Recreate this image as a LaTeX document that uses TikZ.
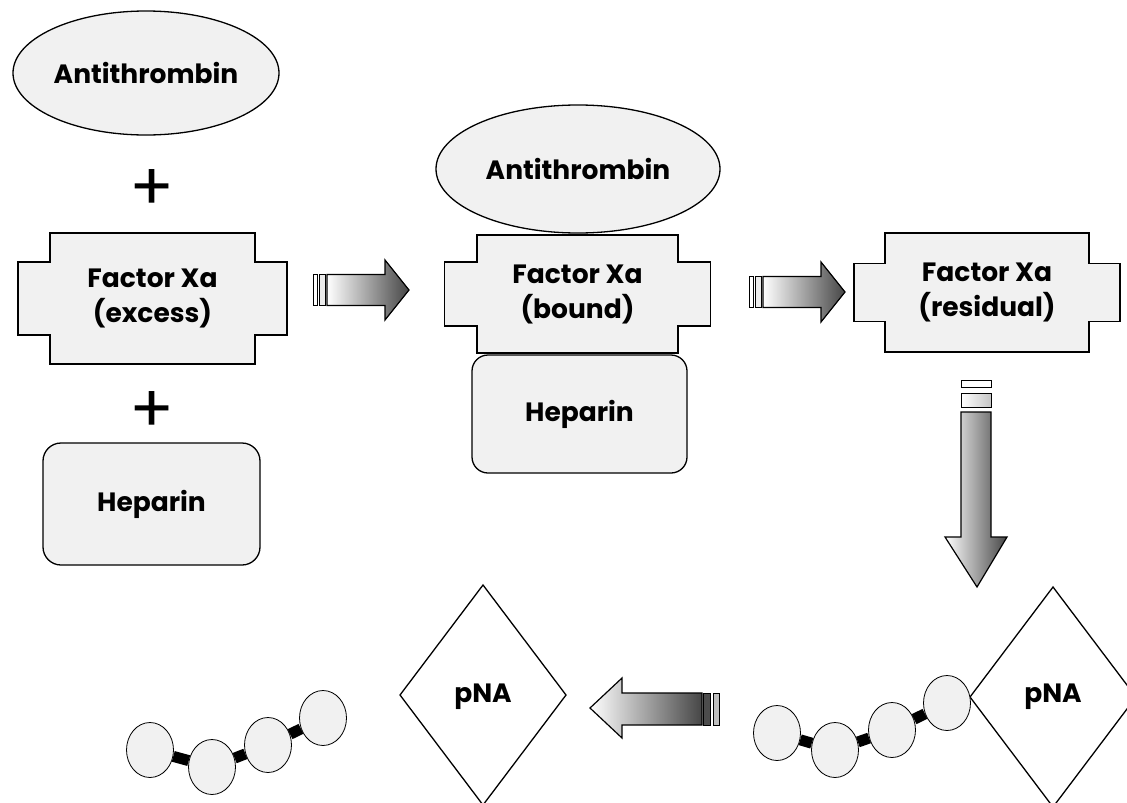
\documentclass[tikz,border=0pt]{standalone}
\usepackage{fontspec}
\setmainfont{Poppins}
\usetikzlibrary{shapes.geometric,backgrounds}
\newcommand\xcross[8]{% name, cx, cy, hw, hh, tab width, tab half height, text
  \draw[shapefill] (#2-#4,#3-#5) -- (#2+#4,#3-#5) -- (#2+#4,#3-#7) -- (#2+#4+#6,#3-#7)
    -- (#2+#4+#6,#3+#7) -- (#2+#4,#3+#7) -- (#2+#4,#3+#5) -- (#2-#4,#3+#5)
    -- (#2-#4,#3+#7) -- (#2-#4-#6,#3+#7) -- (#2-#4-#6,#3-#7) -- (#2-#4,#3-#7) -- cycle;
  \node[lbl] (#1) at (#2,#3) {#8};}
\newcommand\rblock[2]{% x0, cy : right pointing block arrow
  \draw[barline,fill=white] (#1,#2-15.5) rectangle (#1+4,#2+15.5);
  \draw[barline,fill=gray!15] (#1+6,#2-15.5) rectangle (#1+12,#2+15.5);
  \draw[arrline,left color=white,right color=gray!55!black]
    (#1+14,#2-15.5) -- (#1+72,#2-15.5) -- (#1+72,#2-30) -- (#1+96,#2) -- (#1+72,#2+30)
    -- (#1+72,#2+15.5) -- (#1+14,#2+15.5) -- cycle;}
\begin{document}
\begin{tikzpicture}[x=1pt,y=-1pt,
  shapefill/.style={fill=gray!11,draw=black,line width=1.3pt},
  lbl/.style={font=\fontsize{26.5}{35}\selectfont\bfseries,align=center,text=black,inner sep=0pt},
  plussign/.style={font=\fontsize{66}{66}\selectfont,inner sep=0pt},
  bead/.style={ellipse,fill=gray!11,draw=black,line width=0.8pt,minimum width=47pt,minimum height=55pt,inner sep=0pt},
  linker/.style={line width=11pt,draw=black},
  dia/.style={draw=black,line width=1.3pt,fill=white},
  barline/.style={draw=black,line width=0.9pt},
  arrline/.style={draw=black,line width=1.2pt}]
\useasboundingbox (0,0) rectangle (1127,803);
\clip (0,0) rectangle (1127,803);

% ---- left column
\node[ellipse,shapefill,minimum width=266pt,minimum height=124pt,lbl] (at1) at (146,73) {Antithrombin};
\node[plussign] (plus1) at (152,190) {+};
\xcross{fx1}{152.5}{298.5}{102.5}{65.5}{32}{36.5}{Factor Xa\\(excess)}
\node[plussign] (plus2) at (152,412) {+};
\node[rectangle,rounded corners=18pt,shapefill,minimum width=217pt,minimum height=122pt,lbl] (hp1) at (151.5,504) {Heparin};

% ---- arrow 1
\rblock{313}{290}

% ---- middle complex
\xcross{fx2}{577.5}{294}{100.5}{59}{32.5}{32}{Factor Xa\\(bound)}
\node[ellipse,shapefill,minimum width=284pt,minimum height=128pt,lbl] (at2) at (578,169) {Antithrombin};
\node[rectangle,rounded corners=16pt,shapefill,minimum width=215pt,minimum height=118pt,lbl] (hp2) at (579.5,414) {Heparin};

% ---- arrow 2
\rblock{749}{292}

% ---- residual
\xcross{fx3}{987}{292.5}{102}{59.5}{31}{29}{Factor Xa\\(residual)}

% ---- down arrow
\draw[barline,fill=white] (961,380) rectangle (991,387);
\draw[barline,left color=white,right color=gray!45] (961,393) rectangle (991,407);
\draw[arrline,left color=white,right color=gray!55!black]
  (961,412) -- (991,412) -- (991,537) -- (1007,537) -- (977,587) -- (945,537) -- (961,537) -- cycle;

% ---- right diamond + chain
\draw[dia] (1053,587) -- (1136,697) -- (1053,807) -- (970,697) -- cycle;
\node[lbl] (pna2) at (1053,697) {pNA};
\node[bead] (r1) at (777,733) {};
\node[bead] (r2) at (835,750) {};
\node[bead] (r3) at (892,730) {};
\node[bead] (r4) at (947,703) {};
\begin{scope}[on background layer]
  \draw[linker] (r1) -- (r2);
  \draw[linker] (r2) -- (r3);
  \draw[linker] (r3) -- (r4);
\end{scope}

% ---- left pointing arrow
\draw[arrline,left color=white,right color=gray!55!black]
  (702,693) -- (622,693) -- (622,678) -- (590,708) -- (622,738) -- (622,725) -- (702,725) -- cycle;
\draw[barline,fill=gray!60!black] (703,693) rectangle (710,725);
\draw[barline,fill=gray!50] (713,693) rectangle (719,725);

% ---- left diamond
\draw[dia] (483,585) -- (566,695) -- (483,805) -- (400,695) -- cycle;
\node[lbl] (pna1) at (483,697) {pNA};

% ---- left chain
\node[bead] (l1) at (150,750) {};
\node[bead] (l2) at (212,767) {};
\node[bead] (l3) at (268,745) {};
\node[bead] (l4) at (323,718) {};
\begin{scope}[on background layer]
  \draw[linker] (l1) -- (l2);
  \draw[linker] (l2) -- (l3);
  \draw[linker] (l3) -- (l4);
\end{scope}
\end{tikzpicture}
\end{document}
